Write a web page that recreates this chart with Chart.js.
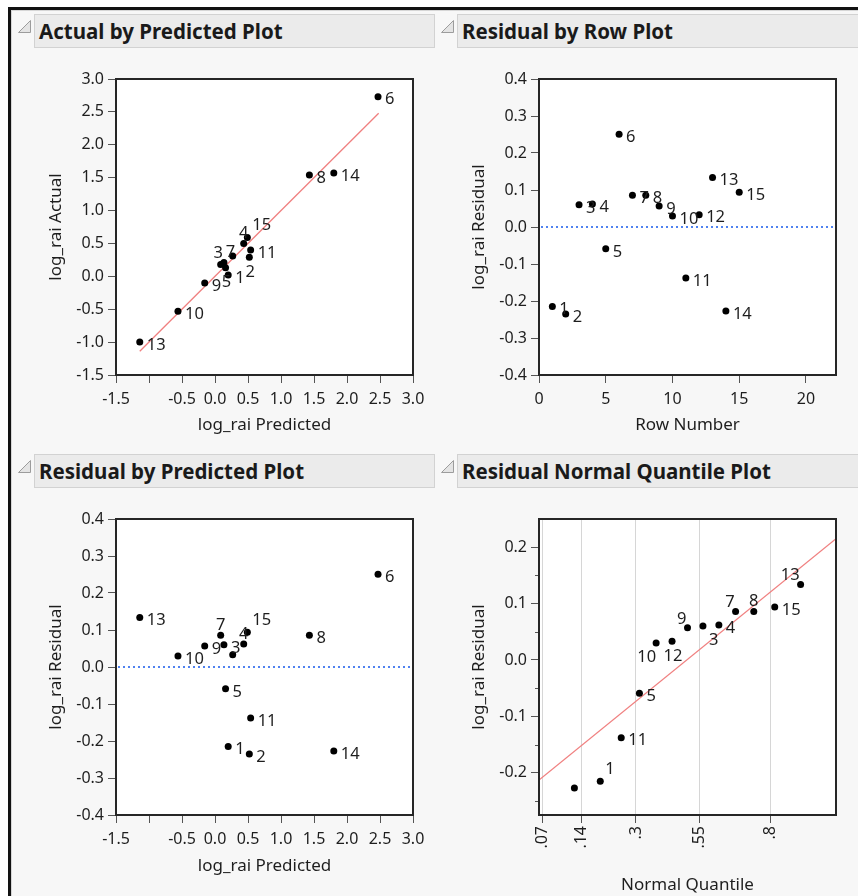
<!DOCTYPE html>
<html>
<head>
<meta charset="utf-8">
<title>log_rai fit diagnostics</title>
<script src="https://cdn.jsdelivr.net/npm/chart.js@4.4.1/dist/chart.umd.min.js"></script>
<style>
  html, body { margin: 0; background: #fff; }
  body { position: relative; width: 858px; height: 896px; overflow: hidden; font-family: 'Noto Sans', sans-serif; }
  #report { position: absolute; left: 8px; top: 7px; width: 900px; height: 940px; background: #f7f7f7;
            border-left: 3px solid #121212; border-top: 3px solid #121212; box-shadow: inset 1px 1px 0 #d6d6d6; }
  .outline { position: absolute; height: 34px; box-sizing: border-box; background: #ebebeb; border: 1px solid #d2d2d2;
             color: #1a1a1a; font-size: 20.5px; font-weight: bold; line-height: 33px; padding-left: 4px; white-space: nowrap; }
  .outline svg { position: absolute; left: -17px; top: 5px; }
  canvas { position: absolute; }
</style>
</head>
<body>
<div id="report"></div>

<div class="outline" style="left:34px;top:14px;width:401px"><svg width="14" height="14"><polygon points="12.5,0.5 12.5,12.5 0.5,12.5" fill="#e4e4e4" stroke="#9c9c9c"/></svg>Actual by Predicted Plot</div>
<div class="outline" style="left:457px;top:14px;width:420px"><svg width="14" height="14"><polygon points="12.5,0.5 12.5,12.5 0.5,12.5" fill="#e4e4e4" stroke="#9c9c9c"/></svg>Residual by Row Plot</div>
<div class="outline" style="left:34px;top:454px;width:401px"><svg width="14" height="14"><polygon points="12.5,0.5 12.5,12.5 0.5,12.5" fill="#e4e4e4" stroke="#9c9c9c"/></svg>Residual by Predicted Plot</div>
<div class="outline" style="left:457px;top:454px;width:420px"><svg width="14" height="14"><polygon points="12.5,0.5 12.5,12.5 0.5,12.5" fill="#e4e4e4" stroke="#9c9c9c"/></svg>Residual Normal Quantile Plot</div>

<canvas id="actualByPred" width="404" height="384" style="left:30px;top:56px"></canvas>
<canvas id="residByRow" width="405" height="384" style="left:453px;top:56px"></canvas>
<canvas id="residByPred" width="404" height="400" style="left:30px;top:496px"></canvas>
<canvas id="residQuantile" width="405" height="400" style="left:453px;top:496px"></canvas>

<script>
// log_rai model, one entry per row (rows 1..15)
const rowNumber = [1, 2, 3, 4, 5, 6, 7, 8, 9, 10, 11, 12, 13, 14, 15];
const predicted = [0.20, 0.52, 0.135, 0.435, 0.16, 2.47, 0.086, 1.43, -0.156, -0.561, 0.54, 0.268, -1.14, 1.80, 0.49];
const actual = [0.02, 0.29, 0.21, 0.50, 0.13, 2.73, 0.18, 1.54, -0.10, -0.53, 0.40, 0.31, -1.00, 1.57, 0.59];
const residual = [-0.215, -0.235, 0.060, 0.062, -0.059, 0.251, 0.086, 0.086, 0.057, 0.030, -0.138, 0.033, 0.134, -0.227, 0.094];
const normalQuantile = [-0.887, -1.534, 0.157, 0.319, -0.489, 1.534, 0.489, 0.674, 0, -0.319, -0.674, -0.157, 1.150, -1.150, 0.887];

// axis ticks
const predTicks = [-1.5, -1.0, -0.5, 0.0, 0.5, 1.0, 1.5, 2.0, 2.5, 3.0];
const actualTicks = [-1.5, -1.0, -0.5, 0.0, 0.5, 1.0, 1.5, 2.0, 2.5, 3.0];
const residTicks = [-0.4, -0.3, -0.2, -0.1, 0.0, 0.1, 0.2, 0.3, 0.4];
const rowTicks = [0, 5, 10, 15, 20];
const qqResidTicks = [-0.2, -0.1, 0.0, 0.1, 0.2];
const qqResidMinorTicks = [-0.25, -0.15, -0.05, 0.05, 0.15];
const qqProbLabels = ['.07', '.14', '.3', '.55', '.8'];
const qqProbQuantiles = [-1.476, -1.080, -0.524, 0.126, 0.842];

// reference lines
const diagLineX = [-1.14, 2.48];
const diagLineY = [-1.14, 2.48];
const qqLineX = [-1.51, 1.51];
const qqLineY = [-0.213, 0.215];

// where each row label sits relative to its point (null = not labelled)
const labelsActualByPred = ['r', 'b', 'al', 'a', 'b', 'r', 'ar', 'r', 'r', 'r', 'r', null, 'r', 'r', 'ar'];
const labelsResidByRow = ['r', 'r', 'r', 'r', 'r', 'r', 'r', 'r', 'r', 'r', 'r', 'r', 'r', 'r', 'r'];
const labelsResidByPred = ['r', 'r', 'r', 'a', 'r', 'r', 'a', 'r', 'r', 'r', 'r', null, 'r', 'r', 'ar'];
const labelsQuantile = ['ar', null, 'br', 'r', 'r', null, 'al', 'a', 'al', 'bl', 'r', 'b', 'al', null, 'r'];

const FONT = "'Noto Sans', sans-serif";
const INK = '#1e1e1e';
const nudge = {
    r: [7, 3, 'left'], a: [0, -10, 'center'], al: [-1, -9, 'right'], ar: [5, -12, 'left'],
    b: [1, 15, 'center'], bl: [0, 14, 'right'], br: [6, 14, 'left']
};

// white plot background, box frame, zero line and minor ticks
const plotFrame = {
    id: 'plotFrame',
    beforeDraw(chart) {
        const a = chart.chartArea, ctx = chart.ctx;
        ctx.save();
        ctx.fillStyle = '#fff';
        ctx.fillRect(a.left, a.top, a.right - a.left, a.bottom - a.top);
        ctx.restore();
    },
    beforeDatasetsDraw(chart, args, opts) {
        if (!opts.zero) return;
        const a = chart.chartArea, ctx = chart.ctx;
        const y = Math.round(chart.scales.y.getPixelForValue(0));
        ctx.save();
        ctx.strokeStyle = '#4f82f0';
        ctx.lineWidth = 2;
        ctx.setLineDash([2, 3]);
        ctx.beginPath();
        ctx.moveTo(a.left + 2, y);
        ctx.lineTo(a.right, y);
        ctx.stroke();
        ctx.restore();
    },
    afterDraw(chart, args, opts) {
        const a = chart.chartArea, ctx = chart.ctx;
        ctx.save();
        if (opts.minor) {
            ctx.strokeStyle = '#555';
            ctx.lineWidth = 1;
            opts.minor.forEach(v => {
                const y = Math.round(chart.scales.y.getPixelForValue(v)) + 0.5;
                ctx.beginPath();
                ctx.moveTo(a.left - 4, y);
                ctx.lineTo(a.left, y);
                ctx.stroke();
            });
        }
        ctx.strokeStyle = '#262626';
        ctx.lineWidth = 2;
        ctx.strokeRect(a.left, a.top, a.right - a.left, a.bottom - a.top);
        ctx.restore();
    }
};

// row number beside each point
const pointLabels = {
    id: 'pointLabels',
    afterDatasetsDraw(chart) {
        const ctx = chart.ctx;
        chart.data.datasets.forEach((ds, di) => {
            if (!ds.labelPlacement) return;
            const meta = chart.getDatasetMeta(di);
            ctx.save();
            ctx.font = '16.5px ' + FONT;
            ctx.fillStyle = INK;
            ctx.textBaseline = 'middle';
            meta.data.forEach((pt, i) => {
                const place = nudge[ds.labelPlacement[i]];
                if (!place) return;
                ctx.textAlign = place[2];
                ctx.fillText(String(rowNumber[i]), pt.x + place[0], pt.y + place[1]);
            });
            ctx.restore();
        });
    }
};

function axis(o) {
    return {
        type: 'linear',
        min: o.min,
        max: o.max,
        afterBuildTicks: scale => { scale.ticks = o.ticks.map(v => ({ value: v })); },
        afterFit: o.fit,
        grid: { drawOnChartArea: !!o.grid, drawTicks: true, tickLength: 8, color: o.grid || '#555', tickColor: '#555', lineWidth: 1 },
        border: { display: false },
        ticks: {
            autoSkip: false, color: INK, font: { family: FONT, size: 16 }, padding: o.pad,
            minRotation: o.rot || 0, maxRotation: o.rot || 0, callback: o.format
        },
        title: { display: true, text: o.title, color: INK, font: { family: FONT, size: 17 }, padding: o.titlePad }
    };
}

function panel(id, o) {
    const canvas = document.getElementById(id);
    const xAxisHeight = canvas.height - 23 - 296;
    const datasets = [{
        data: o.xs.map((x, i) => ({ x: x, y: o.ys[i] })),
        backgroundColor: '#000',
        borderWidth: 0,
        pointRadius: c => {
            const s = c.chart.scales.x;
            return c.raw && c.raw.x >= s.min && c.raw.x <= s.max ? 3.5 : 0;
        },
        order: 0,
        labelPlacement: o.labels
    }];
    if (o.lineX) {
        datasets.push({
            data: o.lineX.map((x, i) => ({ x: x, y: o.lineY[i] })),
            showLine: true, borderColor: '#f08080', borderWidth: 1.3, pointRadius: 0, order: 1
        });
    }
    o.x.fit = s => { s.height = xAxisHeight; };
    o.y.fit = s => { s.width = 86; };
    o.y.pad = 4;
    o.y.titlePad = { top: 16, bottom: 0 };
    return new Chart(canvas, {
        type: 'scatter',
        data: { datasets: datasets },
        options: {
            responsive: false,
            animation: false,
            events: [],
            layout: { padding: { top: 23, right: canvas.width - 86 - 297, left: 0, bottom: 0 } },
            plugins: {
                legend: { display: false },
                tooltip: { enabled: false },
                plotFrame: { zero: !!o.zero, minor: o.minor || null }
            },
            scales: { x: axis(o.x), y: axis(o.y) }
        },
        plugins: [plotFrame, pointLabels]
    });
}

const oneDecimal = v => v.toFixed(1);

panel('actualByPred', {
    xs: predicted, ys: actual, labels: labelsActualByPred, lineX: diagLineX, lineY: diagLineY,
    x: { min: -1.5, max: 3, ticks: predTicks, format: v => (v === -1 ? '' : v.toFixed(1)), title: 'log_rai Predicted', pad: 7, titlePad: { top: 0, bottom: 5 } },
    y: { min: -1.5, max: 3, ticks: actualTicks, format: oneDecimal, title: 'log_rai Actual' }
});

panel('residByRow', {
    xs: rowNumber, ys: residual, labels: labelsResidByRow, zero: true,
    x: { min: 0, max: 22.25, ticks: rowTicks, format: v => String(v), title: 'Row Number', pad: 7, titlePad: { top: 0, bottom: 5 } },
    y: { min: -0.4, max: 0.4, ticks: residTicks, format: oneDecimal, title: 'log_rai Residual' }
});

panel('residByPred', {
    xs: predicted, ys: residual, labels: labelsResidByPred, zero: true,
    x: { min: -1.5, max: 3, ticks: predTicks, format: v => (v === -1 ? '' : v.toFixed(1)), title: 'log_rai Predicted', pad: 7, titlePad: { top: 0, bottom: 20 } },
    y: { min: -0.4, max: 0.4, ticks: residTicks, format: oneDecimal, title: 'log_rai Residual' }
});

panel('residQuantile', {
    xs: normalQuantile, ys: residual, labels: labelsQuantile, lineX: qqLineX, lineY: qqLineY, minor: qqResidMinorTicks,
    x: { min: -1.51, max: 1.51, ticks: qqProbQuantiles, format: (v, i) => qqProbLabels[i], rot: 90, grid: '#d6d6d6', title: 'Normal Quantile', pad: 3, titlePad: { top: 0, bottom: 1 } },
    y: { min: -0.275, max: 0.25, ticks: qqResidTicks, format: oneDecimal, title: 'log_rai Residual' }
});
</script>
</body>
</html>
